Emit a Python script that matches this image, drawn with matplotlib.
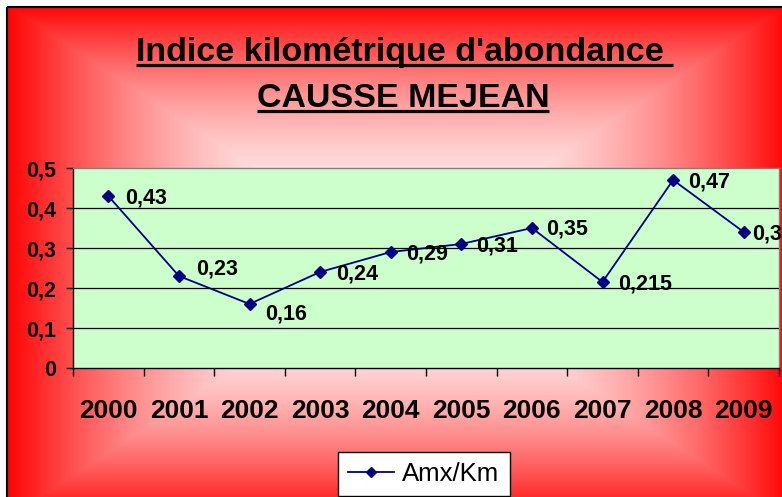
import numpy as np
import matplotlib
matplotlib.use('Agg')
import matplotlib.pyplot as plt
from matplotlib.lines import Line2D

plt.rcParams['font.family'] = ['Liberation Sans', 'DejaVu Sans']

# ---- data ----
years = ['2000', '2001', '2002', '2003', '2004', '2005', '2006', '2007', '2008', '2009']
values = [0.43, 0.23, 0.16, 0.24, 0.29, 0.31, 0.35, 0.215, 0.47, 0.34]
value_labels = ['0,43', '0,23', '0,16', '0,24', '0,29', '0,31', '0,35', '0,215', '0,47', '0,34']
yticks = [0.0, 0.1, 0.2, 0.3, 0.4, 0.5]
ytick_labels = ['0', '0,1', '0,2', '0,3', '0,4', '0,5']
series_name = 'Amx/Km'
title_line1 = "Indice kilométrique d'abondance"
title_line2 = "CAUSSE MEJEAN"

# ---- styling (pixel offsets of data labels) ----
label_offsets_px = [(17, 0), (17, 9), (16, -8), (16, 0), (15, 0),
                    (15, 0), (14, 1), (16, 0), (15, 0), (8, 0)]

W, H, DPI = 782, 497, 100
fig = plt.figure(figsize=(W / DPI, H / DPI), dpi=DPI, facecolor='white')

# background: rectangular "from centre" gradient, white -> red
bg = fig.add_axes([0, 0, 1, 1])
xs = np.arange(8, W) + 0.5
ys = np.arange(8, H) + 0.5
X, Y = np.meshgrid(xs, ys)
cx, cy, hw, hh = 398, 262, 392, 258
s = np.clip(np.maximum(np.abs(X - cx) / hw, np.abs(Y - cy) / hh), 0, 1)
w = 1 - s ** 2
img = np.zeros(X.shape + (3,))
img[..., 0] = 1.0
img[..., 1] = w
img[..., 2] = w
bg.imshow(img, extent=(8, W, H, 8), interpolation='bilinear', aspect='auto')
bg.plot([7, 7], [7, H], color='black', lw=1.5, solid_capstyle='butt')
bg.plot([7, W], [7, 7], color='black', lw=1.5, solid_capstyle='butt')
bg.set_xlim(0, W)
bg.set_ylim(H, 0)
bg.axis('off')

# main plot area
ax = fig.add_axes([73 / W, 1 - 368 / H, 706 / W, 200 / H])
ax.set_facecolor('#CCFFCC')
x = np.arange(len(years))
ax.set_xlim(-0.5, len(years) - 0.5)
ax.set_ylim(yticks[0], yticks[-1])

for yv in yticks[1:-1]:
    ax.axhline(yv, color='black', lw=0.9, zorder=1)

ax.plot(x, values, color='#000080', lw=1.3, marker='D', ms=5.8,
        mec='#000080', mfc='#000080', zorder=3, clip_on=False, label=series_name)

for xi, v, lbl, (dx, dy) in zip(x, values, value_labels, label_offsets_px):
    ax.annotate(lbl, (xi, v), xytext=(dx * 0.72, dy * 0.72 - 5.6),
                textcoords='offset points', ha='left', va='baseline',
                fontsize=15.5, fontweight='bold', color='black',
                annotation_clip=False, zorder=4)

ax.set_xticks(x)
ax.set_xticklabels(years, fontsize=19, fontweight='bold')
ax.set_xticks(np.arange(len(years) + 1) - 0.5, minor=True)
ax.tick_params(axis='x', which='major', length=0, pad=22.5)
ax.tick_params(axis='x', which='minor', length=6, width=1, color='black', direction='out')

ax.set_yticks(yticks)
ax.set_yticklabels(ytick_labels, fontsize=15.5, fontweight='bold')
ax.tick_params(axis='y', length=5, width=1, color='black', direction='out', pad=7.2)

for side in ['left', 'bottom']:
    ax.spines[side].set_color('black')
    ax.spines[side].set_linewidth(1.0)
for side in ['top', 'right']:
    ax.spines[side].set_color('#808080')
    ax.spines[side].set_linewidth(1.0)

# legend
handle = Line2D([0], [0], color='#000080', lw=1.3, marker='D', ms=5.5,
                mec='#000080', mfc='#000080')
leg = fig.legend([handle], [series_name], loc='upper left',
                 bbox_to_anchor=(338 / W, 1 - 452 / H), bbox_transform=fig.transFigure,
                 frameon=True, fancybox=False, edgecolor='black', facecolor='white',
                 framealpha=1, prop={'size': 18.5}, handlelength=1.8,
                 handletextpad=0.31, borderpad=0.39, borderaxespad=0)
leg.get_frame().set_linewidth(1.0)

# title with underline
t1 = fig.text(400 / W, 1 - 61 / H, title_line1, ha='center', va='baseline',
              fontsize=24.5, fontweight='bold', color='black')
t2 = fig.text(403 / W, 1 - 107 / H, title_line2, ha='center', va='baseline',
              fontsize=24.5, fontweight='bold', color='black')
fig.canvas.draw()
r = fig.canvas.get_renderer()
space_px = 0.278 * 24.5 * DPI / 72
for t, uy, extra in [(t1, 64.5, space_px), (t2, 111, 0)]:
    bb = t.get_window_extent(renderer=r)
    fig.add_artist(Line2D([bb.x0 / W, (bb.x1 + extra) / W], [1 - uy / H, 1 - uy / H],
                          transform=fig.transFigure, color='black', lw=2.3,
                          solid_capstyle='butt'))

fig.savefig('out.png', dpi=DPI, facecolor='white')
